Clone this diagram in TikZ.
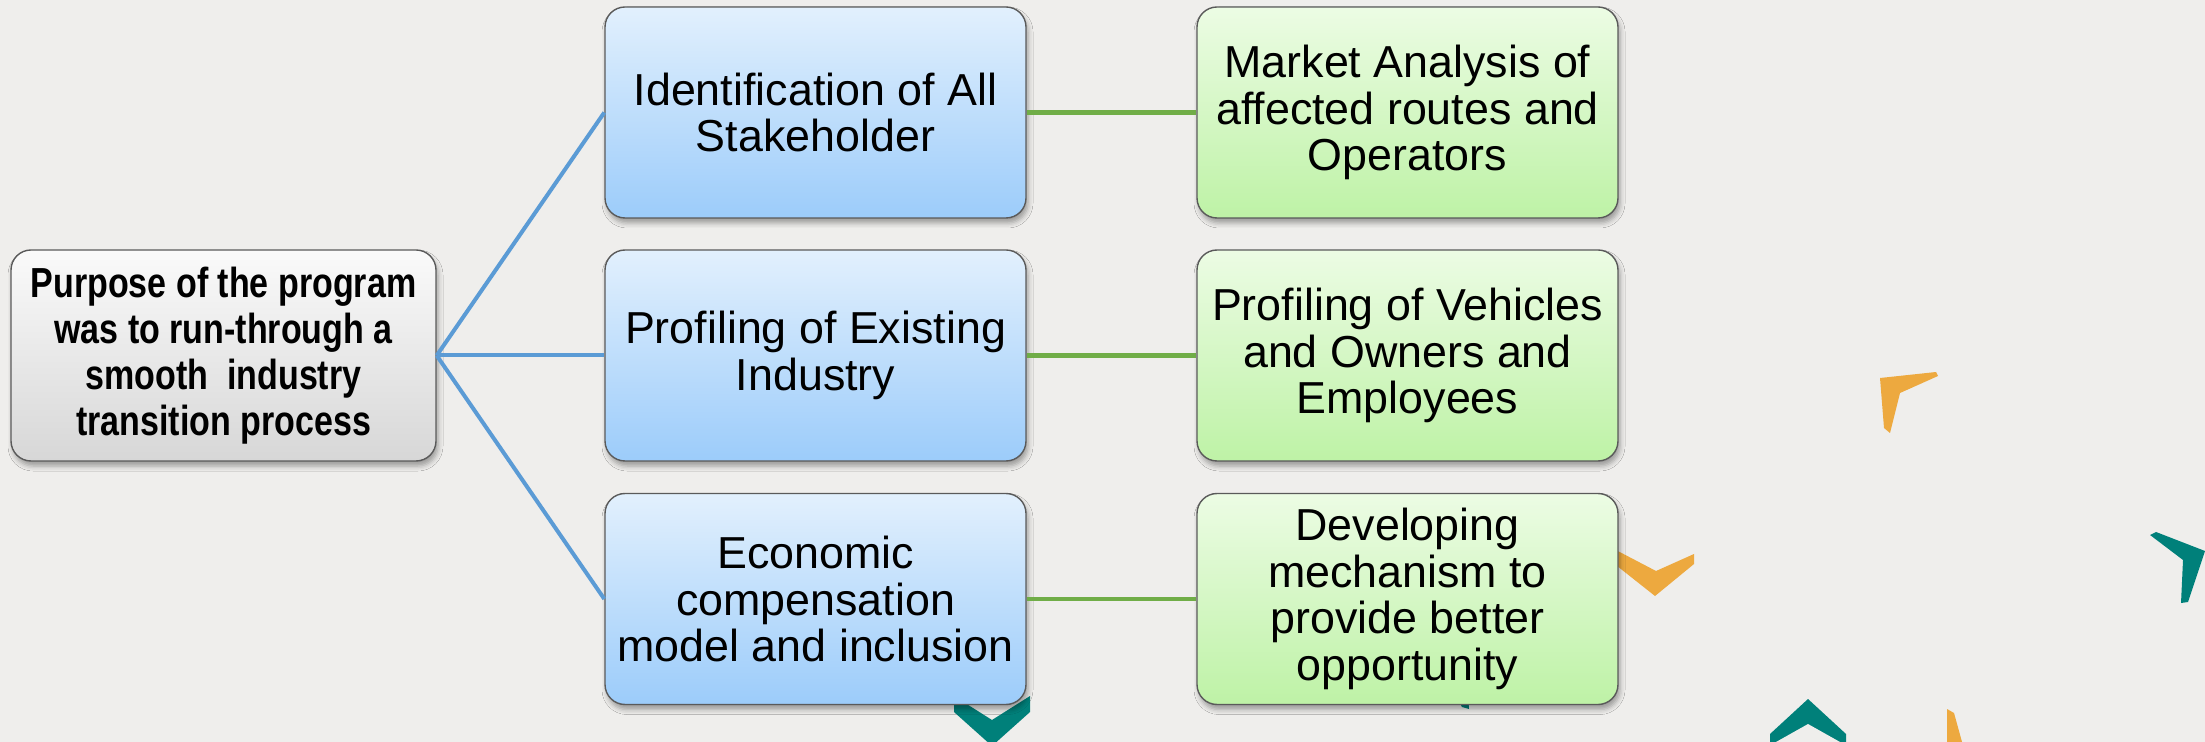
\documentclass[tikz,border=0pt]{standalone}
\usepackage{fontspec}
\setmainfont{Liberation Sans}
\newfontfamily\condfont[FakeStretch=0.81]{Liberation Sans}
\usetikzlibrary{shadows.blur}
\definecolor{bg}{RGB}{239,238,236}
\definecolor{bluetop}{RGB}{226,240,253}
\definecolor{bluebot}{RGB}{156,204,250}
\definecolor{greentop}{RGB}{236,252,228}
\definecolor{greenbot}{RGB}{190,242,166}
\definecolor{graytop}{RGB}{250,250,250}
\definecolor{graybot}{RGB}{215,215,215}
\definecolor{boxborder}{RGB}{90,90,90}
\definecolor{blueline}{RGB}{91,155,213}
\definecolor{greenline}{RGB}{112,173,71}
\definecolor{deco orange}{RGB}{237,169,63}
\definecolor{deco teal}{RGB}{0,128,122}
\begin{document}
\begin{tikzpicture}[x=0.5pt,y=-0.5pt,
  box/.style={rounded corners=10pt, draw=boxborder, line width=0.7pt,
    minimum width=210.5pt, minimum height=105.5pt, align=center, inner sep=2pt,
    blur shadow={shadow xshift=1pt, shadow yshift=-2.5pt, shadow blur radius=2.5pt, shadow opacity=35},
    font=\fontsize{22.4}{23.2}\selectfont},
  bluebox/.style={box, top color=bluetop, bottom color=bluebot},
  greenbox/.style={box, top color=greentop, bottom color=greenbot},
  graybox/.style={box, top color=graytop, bottom color=graybot, minimum width=212.5pt,
    font=\condfont\bfseries\fontsize{21}{23}\selectfont},
  bluelink/.style={draw=blueline, line width=2pt},
  greenlink/.style={draw=greenline, line width=2.3pt},
  orangedeco/.style={fill=deco orange},
  tealdeco/.style={fill=deco teal}]
\useasboundingbox (0,0) rectangle (2205,742);
\fill[bg] (0,0) rectangle (2205,742);

% decorative chevrons
\fill[orangedeco] (1880,378) -- (1936,372) -- (1938,376) -- (1900,393) -- (1890,433) -- (1884,428) -- cycle;
\fill[tealdeco] (2150,535) -- (2156,532) -- (2205,551) -- (2188,602) -- (2181,603) -- (2183,560) -- cycle;
\fill[orangedeco] (1612,548) -- (1656,571) -- (1694,554) -- (1694,564) -- (1655,596) -- (1612,562) -- cycle;
\fill[tealdeco] (1808,699) -- (1846,734) -- (1846,742) -- (1770,742) -- (1770,734) -- cycle;
\fill[bg] (1808,724) -- (1840,742) -- (1776,742) -- cycle;
\fill[orangedeco] (1947,709) -- (1954,713) -- (1962,742) -- (1947,742) -- cycle;
\fill[tealdeco] (954,696) -- (992,720) -- (1030,696) -- (1030,712) -- (992,746) -- (954,712) -- cycle;
\fill[tealdeco] (1456,696) -- (1468,696) -- (1469,709) -- (1462,707) -- cycle;

% nodes
\node[graybox] (purpose) at (223.5,355.5) {Purpose of the program\\was to run-through a\\smooth~ industry\\transition process};
\node[bluebox] (ident) at (815.5,112.5) {Identification of All\\Stakeholder};
\node[bluebox] (profind) at (815.5,355.5) {Profiling of Existing\\Industry};
\node[bluebox] (econ) at (815.5,599) {Economic\\compensation\\model and inclusion};
\node[greenbox] (market) at (1407.5,112.5) {Market Analysis of\\affected routes and\\Operators};
\node[greenbox] (profveh) at (1407.5,355.5) {Profiling of Vehicles\\and Owners and\\Employees};
\node[greenbox] (develop) at (1407.5,599) {Developing\\mechanism to\\provide better\\opportunity};

% connectors
\draw[bluelink] (purpose.east) -- (ident.west);
\draw[bluelink] (purpose.east) -- (profind.west);
\draw[bluelink] (purpose.east) -- (econ.west);
\draw[greenlink] (ident.east) -- (market.west);
\draw[greenlink] (profind.east) -- (profveh.west);
\draw[greenlink] (econ.east) -- (develop.west);
\end{tikzpicture}
\end{document}
